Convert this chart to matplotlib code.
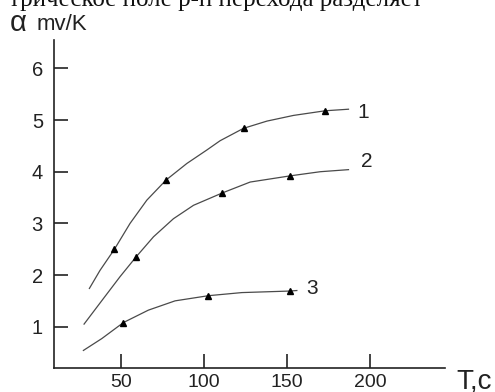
import matplotlib
matplotlib.use("Agg")
import matplotlib.pyplot as plt

# curve traces (T in C, alpha in mV/K)
curve1_t = [30.9, 37.3, 46.0, 55.4, 65.5, 77.1, 89.6, 101.6, 109.6, 123.7,
            137.8, 153.8, 172.9, 186.9]
curve1_a = [1.74, 2.09, 2.50, 3.00, 3.45, 3.84, 4.16, 4.42, 4.60, 4.84,
            4.98, 5.09, 5.18, 5.21]
curve2_t = [27.7, 39.0, 49.4, 59.0, 69.5, 81.5, 93.6, 111.0, 127.7, 151.8,
            169.9, 186.9]
curve2_a = [1.05, 1.53, 1.97, 2.35, 2.74, 3.09, 3.35, 3.59, 3.80, 3.92,
            4.00, 4.04]
curve3_t = [27.3, 38.4, 51.4, 66.4, 82.5, 102.6, 122.7, 151.8, 155.8]
curve3_a = [0.54, 0.77, 1.08, 1.32, 1.50, 1.60, 1.66, 1.69, 1.70]

# measured points (triangles)
marks1_t = [46.0, 77.1, 123.7, 172.9]
marks1_a = [2.50, 3.84, 4.84, 5.18]
marks2_t = [59.0, 111.0, 151.8]
marks2_a = [2.35, 3.59, 3.92]
marks3_t = [51.4, 102.6, 151.8]
marks3_a = [1.08, 1.60, 1.69]

curve_names = ["1", "2", "3"]
x_ticks = [50, 100, 150, 200]
y_ticks = [1, 2, 3, 4, 5, 6]

W, H = 495, 392
fig = plt.figure(figsize=(W / 100, H / 100), dpi=100)
ax = fig.add_axes([54 / W, 1 - 368 / H, (445 - 54) / W, (368 - 40) / H])

line_col = "#4a4a4a"
for t, a, mt, ma in [(curve1_t, curve1_a, marks1_t, marks1_a),
                     (curve2_t, curve2_a, marks2_t, marks2_a),
                     (curve3_t, curve3_a, marks3_t, marks3_a)]:
    ax.plot(t, a, color=line_col, lw=0.9, solid_joinstyle="round")
    ax.plot(mt, ma, ls="none", marker="^", ms=5, color="black")

# curve numbers
label_pos = [(196, 5.15), (198, 4.19), (165, 1.74)]
for name, (lx, ly) in zip(curve_names, label_pos):
    ax.text(lx, ly, name, fontsize=15, family="Liberation Sans",
            ha="center", va="center", color="#222222")

ax.set_xlim(9.6, 245)
ax.set_ylim(0.2, 6.55)
ax.set_xticks(x_ticks)
ax.set_yticks(y_ticks)
ax.set_xticklabels([str(v) for v in x_ticks])
ax.set_yticklabels([str(v) for v in y_ticks])

for side in ["top", "right"]:
    ax.spines[side].set_visible(False)
for side in ["left", "bottom"]:
    ax.spines[side].set_linewidth(1.2)
    ax.spines[side].set_color("#222222")

ax.tick_params(axis="both", direction="in", length=10, width=1.2,
               color="#222222", labelcolor="#222222")
ax.tick_params(axis="y", pad=8, labelsize=14.5)
ax.tick_params(axis="x", pad=4, labelsize=14)
for lab in ax.get_xticklabels() + ax.get_yticklabels():
    lab.set_family("Liberation Sans")

# axis titles
fig.text(10 / W, 1 - 23 / H, "\u03b1", fontsize=21, family="Liberation Sans",
         va="center", ha="left", color="#222222")
fig.text(37 / W, 1 - 24 / H, "mv/K", fontsize=16, family="Liberation Sans",
         va="center", ha="left", color="#222222")
fig.text(456 / W, 1 - 381 / H, "T,c", fontsize=20, family="Liberation Sans",
         va="center", ha="left", color="#222222")

# clipped caption line from the source page
fig.text(423 / W, 1 - 6 / H, "трическое поле р-п перехода разделяет",
         fontsize=18, family="Liberation Serif", va="baseline", ha="right",
         color="#111111")

fig.savefig("out.png", dpi=100)
